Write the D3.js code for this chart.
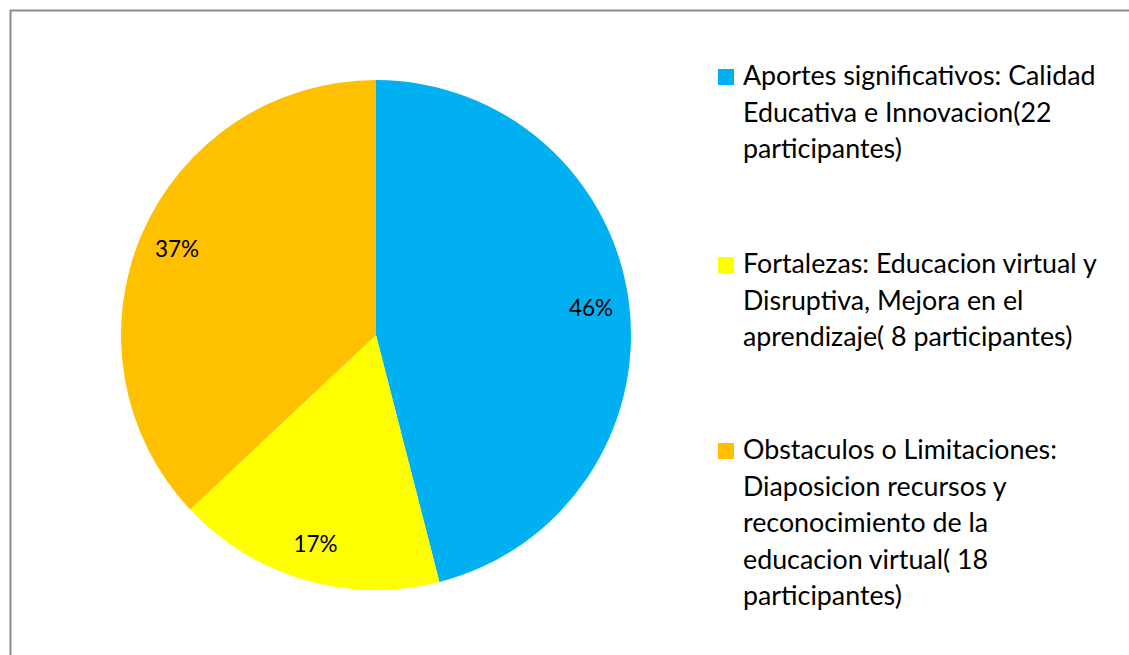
<!DOCTYPE html>
<html><head><meta charset="utf-8">
<script src="https://cdn.jsdelivr.net/npm/d3@7"></script>
<style>body{margin:0;background:#fff;} text{font-family:Lato, "Open Sans", sans-serif;}</style>
</head><body>
<svg id="chart" width="1129" height="655"></svg>
<script>
const categories = [
  "Aportes significativos: Calidad Educativa e Innovacion(22 participantes)",
  "Fortalezas: Educacion virtual y Disruptiva, Mejora en el aprendizaje( 8 participantes)",
  "Obstaculos o Limitaciones: Diaposicion recursos y reconocimiento de la educacion virtual( 18 participantes)"
];
const legendLines = [
  ["Aportes significativos: Calidad", "Educativa e Innovacion(22", "participantes)"],
  ["Fortalezas: Educacion virtual y", "Disruptiva, Mejora en el", "aprendizaje( 8 participantes)"],
  ["Obstaculos o Limitaciones:", "Diaposicion recursos y", "reconocimiento de la", "educacion virtual( 18", "participantes)"]
];
const percents = [46, 17, 37];
const colors = ["#00B0F0", "#FFFF00", "#FFC000"];

const svg = d3.select("#chart");
svg.append("path").attr("d", "M10.5,660 L10.5,10.5 L1135,10.5")
  .attr("fill", "none").attr("stroke", "#8a8a8a").attr("stroke-width", 2);

const cx = 376, cy = 335, r = 255;
const pie = d3.pie().sort(null).value(d => d)(percents);
const arc = d3.arc().innerRadius(0).outerRadius(r);
const labelArc = d3.arc().innerRadius(r * 0.85).outerRadius(r * 0.85);
const g = svg.append("g").attr("transform", `translate(${cx},${cy})`);
g.selectAll("path.slice").data(pie).join("path")
  .attr("class", "slice").attr("d", arc).attr("fill", (d, i) => colors[i]);
g.selectAll("text.lbl").data(pie).join("text")
  .attr("class", "lbl")
  .attr("transform", d => `translate(${labelArc.centroid(d)})`)
  .attr("text-anchor", "middle").attr("dominant-baseline", "central")
  .attr("font-size", 22.5).attr("fill", "#000")
  .text(d => d.data + "%");

const legendTops = [69, 257, 443];
const lineH = 36.5;
const lg = svg.append("g");
legendLines.forEach((lines, i) => {
  lg.append("rect").attr("x", 718).attr("y", legendTops[i]).attr("width", 16).attr("height", 16)
    .attr("fill", colors[i]);
  const t = lg.append("text").attr("x", 743).attr("y", legendTops[i] + 16)
    .attr("font-size", 26.8).attr("fill", "#000");
  lines.forEach((ln, j) => {
    t.append("tspan").attr("x", 743).attr("y", legendTops[i] + 16 + j * lineH).text(ln);
  });
});
</script>
</body></html>
